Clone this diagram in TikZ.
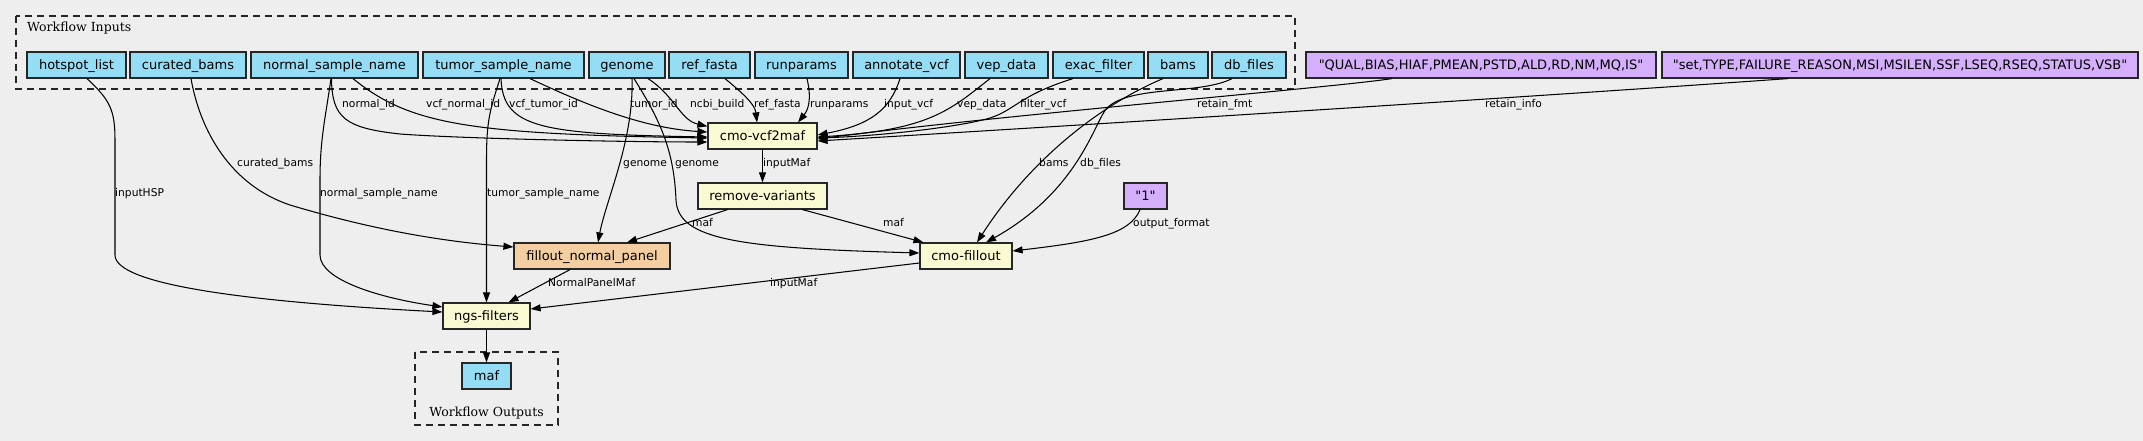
\documentclass[tikz,border=0pt]{standalone}
\usepackage{fontspec}
\setmainfont{DejaVu Sans}[Ligatures=TeXOff]
\newfontfamily\clusterfont{DejaVu Serif}
\usetikzlibrary{arrows.meta,calc}
\definecolor{bgc}{HTML}{EEEEEE}
\definecolor{inpc}{HTML}{94DDF4}
\definecolor{stepc}{HTML}{FAFAD2}
\definecolor{subc}{HTML}{F3CEA1}
\definecolor{defc}{HTML}{D5AEFC}
\begin{document}
\begin{tikzpicture}[x=1pt,y=-1pt,
  box/.style={draw=black!85, line width=1.2pt, minimum height=26pt, inner sep=0pt, text height=10pt, text depth=1.5pt, font=\fontsize{13}{15}\selectfont},
  inp/.style={box, fill=inpc},
  stepbox/.style={box, fill=stepc},
  subbox/.style={box, fill=subc},
  defbox/.style={box, fill=defc},
  edge/.style={draw=black, line width=1.05pt, -{Triangle[length=10pt,width=7pt]}},
  lab/.style={anchor=west, inner sep=0pt, font=\fontsize{10.7}{12}\selectfont, text height=8pt, text depth=2.5pt},
  cluster/.style={draw=black!85, line width=1.2pt, dash pattern=on 7pt off 5pt},
  ctitle/.style={inner sep=0pt, font=\clusterfont\fontsize{12.5}{15}\selectfont}]
\useasboundingbox[fill=bgc] (0,0) rectangle (2143,441);

% clusters
\draw[cluster] (16,16) rectangle (1295,89);
\node[ctitle, anchor=base west] (tin) at (27,32) {Workflow Inputs};
\draw[cluster] (415,352) rectangle (558,425);
\node[ctitle, anchor=base] (tout) at (486.5,416) {Workflow Outputs};

% input nodes
\node[inp, minimum width=99pt]  (hot) at (76.5,65) {hotspot\_list};
\node[inp, minimum width=116pt] (cur) at (188,65) {curated\_bams};
\node[inp, minimum width=167pt] (nsn) at (334.5,65) {normal\_sample\_name};
\node[inp, minimum width=161pt] (tsn) at (503.5,65) {tumor\_sample\_name};
\node[inp, minimum width=76pt]  (gen) at (627,65) {genome};
\node[inp, minimum width=81pt]  (ref) at (709.5,65) {ref\_fasta};
\node[inp, minimum width=93pt]  (run) at (801.5,65) {runparams};
\node[inp, minimum width=107pt] (ann) at (906.5,65) {annotate\_vcf};
\node[inp, minimum width=83pt]  (vep) at (1006.5,65) {vep\_data};
\node[inp, minimum width=91pt]  (exa) at (1098.5,65) {exac\_filter};
\node[inp, minimum width=60pt]  (bam) at (1178,65) {bams};
\node[inp, minimum width=74pt]  (dbf) at (1249,65) {db\_files};
\node[defbox, minimum width=350pt] (qual) at (1481,65) {"QUAL,BIAS,HIAF,PMEAN,PSTD,ALD,RD,NM,MQ,IS"};
\node[defbox, minimum width=476pt] (set) at (1900,65) {"set,TYPE,FAILURE\_REASON,MSI,MSILEN,SSF,LSEQ,RSEQ,STATUS,VSB"};

% steps
\node[stepbox, minimum width=109pt] (vcf) at (762.5,136) {cmo-vcf2maf};
\node[stepbox, minimum width=129pt] (rv)  at (762.5,196) {remove-variants};
\node[defbox,  minimum width=43pt]  (one) at (1145.5,196) {"1"};
\node[subbox,  minimum width=156pt] (fnp) at (592,256) {fillout\_normal\_panel};
\node[stepbox, minimum width=92pt]  (cf)  at (966,256) {cmo-fillout};
\node[stepbox, minimum width=87pt]  (ngs) at (486.5,316) {ngs-filters};
\node[inp,     minimum width=49pt]  (maf) at (486.5,376) {maf};

% edges into cmo-vcf2maf
\draw[edge] ($(nsn.south)+(-3,0)$) .. controls (332,118) and (345,128) .. (400,134) .. controls (460,138.5) and (620,142) .. ($(vcf.west)+(0,6)$);
\draw[edge] ($(nsn.south)+(18.5,0)$) .. controls (410,125) and (470,134) .. ($(vcf.west)+(0,2)$);
\draw[edge] ($(tsn.south)+(-2.5,0)$) .. controls (503,128) and (540,134) .. ($(vcf.west)+(0,1)$);
\draw[edge] ($(tsn.south)+(26.5,0)$) .. controls (580,102) and (640,128) .. ($(vcf.west)+(0,-4)$);
\draw[edge] ($(gen.south)+(21,0)$) .. controls (675,96) and (680,120) .. ($(vcf.north west)+(0,4)$);
\draw[edge] ($(ref.south)+(15.5,0)$) .. controls (745,95) and (755,105) .. ($(vcf.north)+(-5.5,0)$);
\draw[edge] ($(run.south)+(5.5,0)$) .. controls (812,100) and (808,110) .. ($(vcf.north)+(35.5,0)$);
\draw[edge] ($(ann.south)+(-6.5,0)$) .. controls (890,110) and (870,125) .. ($(vcf.east)+(0,-1)$);
\draw[edge] ($(vep.south)+(-16.5,0)$) .. controls (950,110) and (930,130) .. ($(vcf.east)+(0,1)$);
\draw[edge] ($(exa.south)+(-25.5,0)$) .. controls (1020,95) and (1015,110) .. (990,118) .. controls (960,127) and (880,136) .. ($(vcf.east)+(0,2)$);
\draw[edge] ($(qual.south)+(-89,0)$) .. controls (1330,88) and (1000,115) .. ($(vcf.east)+(0,3)$);
\draw[edge] ($(set.south)+(-112,0)$) .. controls (1600,92) and (1200,118) .. ($(vcf.east)+(0,5)$);

% other edges
\draw[edge] (vcf.south) -- (rv.north);
\draw[edge] ($(rv.south)+(-35,0)$) -- ($(fnp.north)+(35,0)$);
\draw[edge] ($(rv.south)+(40,0)$) -- ($(cf.north west)+(4,0)$);
\draw[edge] ($(gen.south)+(5,0)$) .. controls (634,140) and (606,200) .. ($(fnp.north)+(6,0)$);
\draw[edge] ($(gen.south)+(7,0)$) .. controls (660,120) and (674,150) .. (676,200) .. controls (678,240) and (740,248) .. ($(cf.west)+(0,-3)$);
\draw[edge] ($(bam.south)+(-15,0)$) .. controls (1100,105) and (1030,160) .. ($(cf.north)+(11,0)$);
\draw[edge] ($(dbf.south)+(-17,0)$) .. controls (1200,95) and (1130,85) .. (1107,108) .. controls (1095,120) and (1080,190) .. ($(cf.north)+(20,0)$);
\draw[edge] ($(one.south)+(-5.5,0)$) .. controls (1130,235) and (1090,242) .. ($(cf.east)+(0,-5)$);
\draw[edge] ($(cur.south)+(3,0)$) .. controls (200,130) and (230,185) .. (290,205) .. controls (380,232) and (450,242) .. ($(fnp.west)+(0,-9)$);
\draw[edge] ($(hot.south)+(10.5,0)$) .. controls (110,100) and (115,110) .. (115,140) -- (115,255) .. controls (115,285) and (250,302) .. ($(ngs.west)+(0,-4)$);
\draw[edge] ($(nsn.south)+(-3.5,0)$) .. controls (325,120) and (320,140) .. (320,180) -- (320,255) .. controls (320,280) and (380,298) .. ($(ngs.west)+(0,-9)$);
\draw[edge] ($(tsn.south)+(-3.5,0)$) .. controls (490,110) and (486.5,120) .. (486.5,160) -- (ngs.north);
\draw[edge] ($(fnp.south)+(-22,0)$) -- ($(ngs.north)+(22,0)$);
\draw[edge] ($(cf.west)+(0,7)$) -- ($(ngs.east)+(0,-7)$);
\draw[edge] (ngs.south) -- (maf.north);

% edge labels
\node[lab] (l1)  at (342,105) {normal\_id};
\node[lab] (l2)  at (426,105) {vcf\_normal\_id};
\node[lab] (l3)  at (509,105) {vcf\_tumor\_id};
\node[lab] (l4)  at (630,105) {tumor\_id};
\node[lab] (l5)  at (690,105) {ncbi\_build};
\node[lab] (l6)  at (754,105) {ref\_fasta};
\node[lab] (l7)  at (810,105) {runparams};
\node[lab] (l8)  at (884,105) {input\_vcf};
\node[lab] (l9)  at (957,105) {vep\_data};
\node[lab] (l10) at (1020,105) {filter\_vcf};
\node[lab] (l11) at (1197,105) {retain\_fmt};
\node[lab] (l12) at (1485,105) {retain\_info};
\node[lab] (l13) at (623,164) {genome};
\node[lab] (l14) at (675,164) {genome};
\node[lab] (l15) at (763,164) {inputMaf};
\node[lab] (l16) at (237,164) {curated\_bams};
\node[lab] (l17) at (1039,164) {bams};
\node[lab] (l18) at (1080,164) {db\_files};
\node[lab] (l19) at (692,224) {maf};
\node[lab] (l20) at (883,224) {maf};
\node[lab] (l21) at (1133,224) {output\_format};
\node[lab] (l22) at (115,194) {inputHSP};
\node[lab] (l23) at (320,194) {normal\_sample\_name};
\node[lab] (l24) at (487,194) {tumor\_sample\_name};
\node[lab] (l25) at (548,284) {NormalPanelMaf};
\node[lab] (l26) at (770,284) {inputMaf};
\end{tikzpicture}
\end{document}
